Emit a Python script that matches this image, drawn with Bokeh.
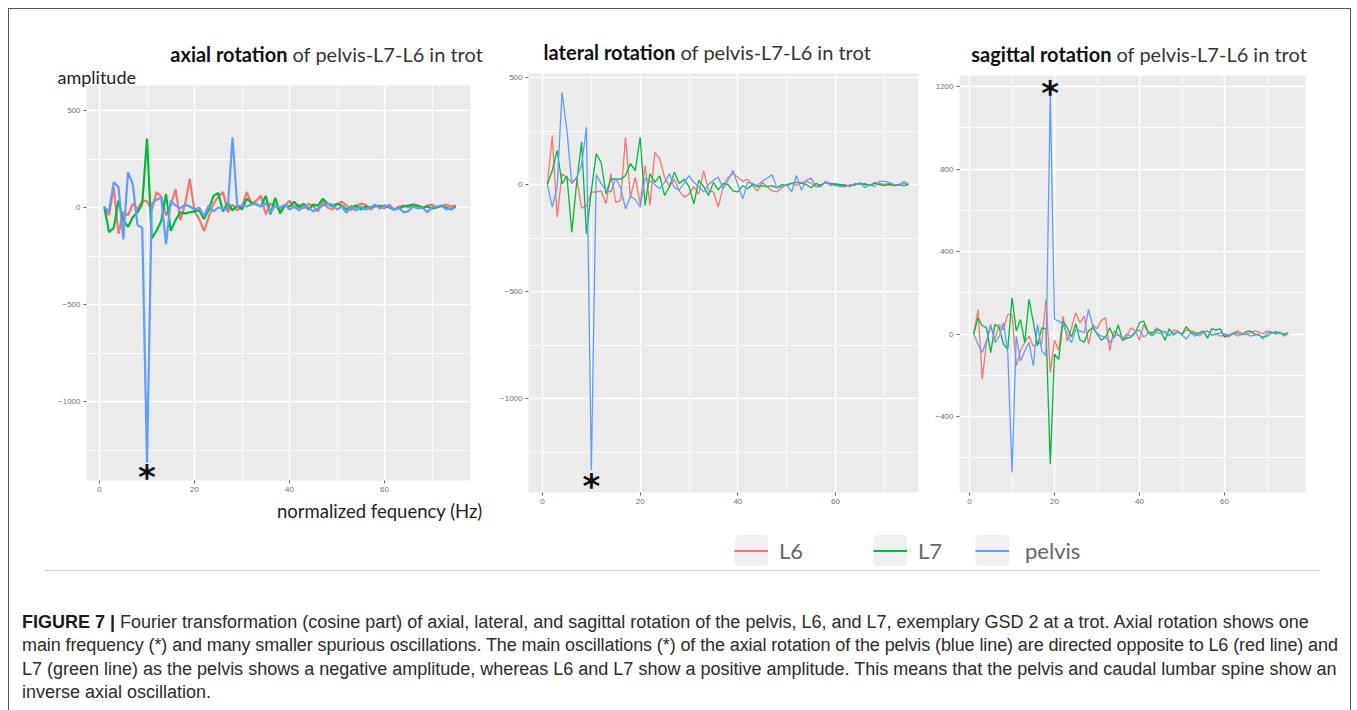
from bokeh.plotting import figure
from bokeh.models import Range1d, FixedTicker, Label, Legend, LegendItem, Span, Div, BoxAnnotation
from bokeh.layouts import row, column
from bokeh.embed import file_html
from bokeh.resources import INLINE

freq = list(range(1, 76))

axial_L6 = [0, -40, 105, -135, -25, -40, 20, -10, 35, 33, -15, 80, 55, -40, 10, 95, -65, 15, 148, -20,
            -60, -120, -50, 20, 55, 80, -25, 15, -15, 5, 80, 20, 35, 60, -35, 20, 10, -15, 10, 35,
            0, 15, -5, 20, 5, -20, 30, 0, -10, 15, 30, 10, -15, 5, 20, 15, -10, 5, 10, -5,
            15, -10, 5, 10, 0, 15, 5, -5, 10, 15, 0, 5, 15, 5, 10]
axial_L7 = [5, -127, -105, 36, -67, -100, -50, -25, 20, 355, -160, -120, -70, 70, -120, -65, -25, -30, -25, -20,
            -15, -60, -10, 60, 75, -20, 25, -15, 10, -10, 45, 25, 15, 5, 60, -35, 50, -30, 10, 5,
            30, 0, 20, -10, 15, 10, 45, 20, 5, 20, 10, -10, 0, 10, -10, 5, 0, 10, 5, 10,
            0, -10, -5, 5, 10, 15, 10, 0, 5, -5, 0, 10, 0, -10, 5]
axial_pelvis = [0, -20, 130, 105, -165, 182, 120, -90, -105, -1315, 20, 40, 52, -190, 35, 10, -5, 15, 5, -10,
                0, -45, 10, -20, 0, -5, -10, 362, 5, 10, 5, 15, 20, 5, 25, -25, 10, 0, 15, -10,
                5, -15, 10, 0, -20, -5, 10, 20, 15, -10, 5, -28, 10, -15, 5, -10, 0, 15, -5, 10,
                5, -10, 0, -25, -20, 5, -5, 0, -25, 0, 5, 10, -10, -5, 0]

lateral_L6 = [0, 229, -153, 50, 30, 10, 30, -110, -100, -36, -36, -30, -90, 50, -83, -75, 221, -59, 34, -90,
              89, -98, 151, 120, 34, -10, 25, -30, -59, -45, -10, -45, 65, -30, -35, -106, -10, 34, 50, 35,
              15, 25, -5, -30, 10, -10, -30, -35, -15, 0, 5, -5, 10, 15, 5, -10, 0, 10, -5, 5,
              -5, 0, -10, 5, 0, 5, -5, 10, 5, 0, 5, -5, 0, 5, 0]
lateral_L7 = [0, 65, 159, 3, 40, -223, 10, 198, -230, -30, 143, 104, -44, 26, 25, 25, 42, 97, 65, 221,
              -98, 50, 10, 40, -51, -10, 58, 5, 25, -10, -90, 20, -10, -51, 10, -25, 5, 0, -30, -35,
              -5, -20, 0, -10, -5, -10, -5, -15, 0, -5, 5, 10, 5, 0, -15, 5, -5, 10, 5, 0,
              0, -5, -5, 0, 5, 0, -5, 5, 0, -5, 0, -5, 0, -5, 0]
lateral_pelvis = [0, -106, -12, 431, 252, 3, 34, 89, 268, -1336, 45, 5, -28, -35, 30, -15, -114, -55, -70, -106,
                  30, 15, 0, -20, 10, 50, -15, -25, 5, 42, 10, -10, -35, 0, 20, 35, -20, 20, 65, 0,
                  -67, 10, 5, -5, 15, 30, 45, -15, -10, 0, -35, 42, -25, 20, 30, -10, -10, 15, 0, -5,
                  -10, -10, 0, -5, 10, -15, 0, -10, 15, 15, 10, 0, -5, 15, 0]

sagittal_L6 = [0, 119, -219, -40, 39, -25, 47, 20, 95, 95, -155, -80, -40, -10, -60, -40, -50, 168, -187, -30,
               -80, 87, -35, 30, 103, 55, 87, -50, 45, 25, 65, 79, -82, 15, 0, -30, -10, 30, 15, -30,
               45, 10, -5, 30, 15, 5, -10, 20, 15, -5, 20, 15, 10, -10, 5, 15, -5, 0, -10, -5,
               -15, 5, 15, 5, -5, 5, 15, 10, 0, 15, 10, 0, 10, -10, 0]
sagittal_L7 = [0, 79, 40, 31, -90, 47, 30, -50, -74, 176, 15, 71, -42, 168, 60, -58, 30, 25, -631, -98,
               -123, 63, 30, -15, 50, -30, -40, 15, 30, 0, -30, -15, 30, -20, 45, -30, -20, -15, 5, 55,
               63, 10, 5, 20, 15, -30, 25, -5, 10, 0, 35, 10, 0, 5, 15, -20, 25, 20, 25, -15,
               -5, 0, 5, -5, 10, 15, 0, -5, -15, -10, 5, 10, 5, 0, 5]
sagittal_pelvis = [0, -50, -90, -34, 47, -42, -10, 55, -90, -671, -10, -130, -82, -40, -155, 47, -82, -106, 1160, 71,
                   63, 47, 0, -42, 23, 15, 5, 119, 39, 5, -10, -15, -42, -10, -5, -20, 0, -10, 10, 20,
                   -15, 5, -10, 10, 0, 15, -5, 5, 10, -5, -25, 5, -10, 0, 10, 15, -5, 0, 5, 0,
                   -5, 5, -10, 0, 5, -10, -5, 0, -25, 5, 10, 0, 5, -5, 5]

series_names = ["L6", "L7", "pelvis"]
colors = {"L6": "#F8766D", "L7": "#00BA38", "pelvis": "#619CFF"}

x_ticks = [0, 20, 40, 60]
x_minor = [10, 30, 50, 70]
axial_yticks = [-1000, -500, 0, 500]
axial_yminor = [-1250, -750, -250, 250]
lateral_yticks = [-1000, -500, 0, 500]
lateral_yminor = [-1250, -750, -250, 250]
sagittal_yticks = [-400, 0, 400, 800, 1200]
sagittal_yminor = [-600, -200, 200, 600, 1000]

TITLE_FONT = "Lato"
ROW_TOP = 9      # page y of the top of the panel row
ROW_H = 516      # height of the panel row


def lin(px, p0, v0, p1, v1):
    return v0 + (px - p0) * (v1 - v0) / (p1 - p0)


def make_panel(fig_x0, width, box, xcal, ycal, yticks, yminor, data, lw):
    # box: page-pixel extent (left, right, top, bottom) of the grey plotting panel
    # xcal / ycal: two (pixel, value) calibration pairs of the axis
    (xa, xva), (xb, xvb) = xcal
    (ya, yva), (yb, yvb) = ycal
    fx = lambda px: lin(px, xa, xva, xb, xvb)
    fy = lambda py: lin(py, ya, yva, yb, yvb)
    p = figure(width=width, height=ROW_H,
               x_range=Range1d(fx(fig_x0), fx(fig_x0 + width)),
               y_range=Range1d(fy(ROW_TOP + ROW_H), fy(ROW_TOP)),
               output_backend="svg", toolbar_location=None,
               min_border_left=0, min_border_right=0, min_border_top=0, min_border_bottom=0)
    bl, br, bt, bb = fx(box[0]), fx(box[1]), fy(box[2]), fy(box[3])
    p.background_fill_color = "white"
    p.border_fill_color = "white"
    p.outline_line_color = None
    p.add_layout(BoxAnnotation(left=bl, right=br, bottom=bb, top=bt, fill_color="#EBEBEB",
                               fill_alpha=1.0, line_color=None, level="image"))
    p.xaxis.ticker = FixedTicker(ticks=x_ticks, minor_ticks=x_minor)
    p.yaxis.ticker = FixedTicker(ticks=yticks, minor_ticks=yminor)
    p.xaxis.fixed_location = bb
    p.yaxis.fixed_location = bl
    p.xaxis.bounds = (bl, br)
    p.yaxis.bounds = (bb, bt)
    for ax in p.axis:
        ax.axis_line_color = None
        ax.major_tick_line_color = "#666666"
        ax.major_tick_out = 3
        ax.major_tick_in = 0
        ax.minor_tick_line_color = None
        ax.major_label_text_font_size = "8px"
        ax.major_label_text_color = "#707070"
        ax.major_label_text_font = "Liberation Sans"
        ax.major_label_standoff = 2
    p.xgrid.bounds = (bl, br)
    p.xgrid.cross_bounds = (bb, bt)
    p.ygrid.bounds = (bb, bt)
    p.ygrid.cross_bounds = (bl, br)
    for g in p.grid:
        g.grid_line_color = "white"
        g.grid_line_width = 1.6
        g.minor_grid_line_color = "white"
        g.minor_grid_line_width = 0.8
    for name, vals in zip(series_names, data):
        p.line(freq, vals, line_color=colors[name], line_width=lw)
    return p


def add_title(p, bold, rest, split_x, y):
    p.add_layout(Label(x=split_x, y=y, x_units="screen", y_units="screen", text=bold,
                       text_font=TITLE_FONT, text_font_style="bold", text_font_size="20px",
                       text_align="right", text_baseline="middle", text_color="#111111"))
    p.add_layout(Label(x=split_x + 5, y=y, x_units="screen", y_units="screen", text=rest,
                       text_font=TITLE_FONT, text_font_style="normal", text_font_size="20px",
                       text_align="left", text_baseline="middle", text_color="#333333"))


def add_star(p, vals, offset):
    idx = max(range(len(vals)), key=lambda i: abs(vals[i]))
    p.add_layout(Label(x=freq[idx], y=vals[idx], text="*", text_font="DejaVu Sans",
                       text_font_style="bold", text_font_size="34px", text_align="center",
                       text_baseline="alphabetic", y_offset=offset, text_color="#111111"))


p1 = make_panel(9, 481, (86, 470, 85, 480), ((99, 0), (384, 60)), ((207, 0), (401, -1000)),
                axial_yticks, axial_yminor, [axial_L6, axial_L7, axial_pelvis], 2.2)
add_title(p1, "axial rotation", "of pelvis-L7-L6 in trot", 278, 472)
p1.add_layout(Label(x=48, y=449, x_units="screen", y_units="screen", text="amplitude",
                    text_font=TITLE_FONT, text_font_size="18px", text_align="left",
                    text_baseline="middle", text_color="#222222"))
p1.add_layout(Label(x=478, y=15, x_units="screen", y_units="screen", text="normalized fequency  (Hz)",
                    text_font=TITLE_FONT, text_font_size="18.5px", text_align="right",
                    text_baseline="middle", text_color="#222222"))
add_star(p1, axial_pelvis, -14)

p2 = make_panel(490, 432, (528, 918, 73, 492), ((542, 0), (835, 60)), ((184, 0), (398, -1000)),
                lateral_yticks, lateral_yminor, [lateral_L6, lateral_L7, lateral_pelvis], 1.3)
add_title(p2, "lateral rotation", "of pelvis-L7-L6 in trot", 185, 474)
add_star(p2, lateral_pelvis, -16)

p3 = make_panel(922, 428, (959, 1305, 75, 492), ((969, 0), (1224, 60)), ((86, 1200), (416, -400)),
                sagittal_yticks, sagittal_yminor, [sagittal_L6, sagittal_L7, sagittal_pelvis], 1.3)
add_title(p3, "sagittal rotation", "of pelvis-L7-L6 in trot", 189, 472)
add_star(p3, sagittal_pelvis, 2)

# legend strip
lf = figure(width=1341, height=50, x_range=Range1d(0, 1), y_range=Range1d(0, 50),
            x_axis_type=None, y_axis_type=None, output_backend="svg", toolbar_location=None,
            min_border_left=34, min_border_right=30, min_border_top=0, min_border_bottom=0)
lf.outline_line_color = None
lf.grid.visible = False
lf.border_fill_color = "white"
lf.background_fill_color = "white"
# proxy renderers for the legend keys (their data lie outside the visible ranges)
proxy_x = [-5, -4]
proxy_y = [-5, -5]
key_bg = lf.quad(left=proxy_x[:1], right=proxy_x[1:], top=[-4], bottom=[-5], fill_color="#F0F0F0",
                 line_color="#F0F0F0", line_width=7)
key_lines = {n: lf.line(x=proxy_x, y=proxy_y, line_color=colors[n], line_width=1.8) for n in series_names}
leg_common = dict(orientation="horizontal", glyph_width=34, glyph_height=31,
                  padding=0, margin=0, border_line_color=None, background_fill_alpha=0,
                  label_text_font=TITLE_FONT, label_text_font_size="22px", label_text_color="#666666")
leg1 = Legend(items=[LegendItem(label="L6", renderers=[key_bg, key_lines["L6"]]),
                     LegendItem(label="L7", renderers=[key_bg, key_lines["L7"]])],
              location=(691, 9), spacing=70, label_standoff=11, **leg_common)
leg2 = Legend(items=[LegendItem(label="pelvis", renderers=[key_bg, key_lines["pelvis"]])],
              location=(932, 9), spacing=0, label_standoff=16, **leg_common)
lf.add_layout(leg1)
lf.add_layout(leg2)
lf.add_layout(Span(location=5, dimension="width", line_color="#CCCCCC", line_width=1))

caption_lines = [
    "Fourier transformation (cosine part) of axial, lateral, and sagittal rotation of the pelvis, L6, and L7, exemplary GSD 2 at a trot. Axial rotation shows one",
    "main frequency (*) and many smaller spurious oscillations. The main oscillations (*) of the axial rotation of the pelvis (blue line) are directed opposite to L6 (red line) and",
    "L7 (green line) as the pelvis shows a negative amplitude, whereas L6 and L7 show a positive amplitude. This means that the pelvis and caudal lumbar spine show an",
    "inverse axial oscillation.",
]
line_spacing = ["0", "-0.1px", "0", "0"]
caption_body = "<br>".join('<span style="letter-spacing:%s">%s</span>' % (ls, t)
                           for ls, t in zip(line_spacing, caption_lines))
caption_html = ('<div style="font-family:\'Liberation Sans\',Arial,sans-serif;font-size:18px;'
                'line-height:23.3px;color:#2B2B2B;white-space:nowrap;padding:36px 0 0 13px;">'
                '<b style="color:#1A1A1A">FIGURE 7 |</b> ' + caption_body + '</div>')
cap = Div(text=caption_html, width=1341, height=135, margin=(0, 0, 0, 0))

top_row = row(p1, p2, p3, spacing=0)
root = column(top_row, lf, cap, spacing=0, margin=(8, 0, 0, 8),
              styles={"border-top": "1px solid #555555", "border-left": "1px solid #555555",
                      "border-right": "1px solid #555555"})

open("out.html", "w").write(file_html(root, INLINE))
